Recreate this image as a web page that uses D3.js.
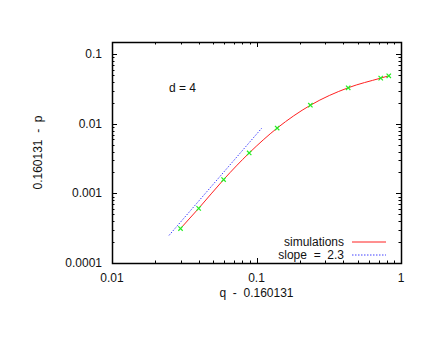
<!DOCTYPE html>
<html>
<head>
<meta charset="utf-8">
<script src="https://cdn.jsdelivr.net/npm/d3@7"></script>
<style>
  body { margin: 0; background: #fff; }
  text { font-family: "Liberation Sans", Arial, sans-serif; font-size: 12px; fill: #111; }
</style>
</head>
<body>
<svg class="chart"></svg>
<script>
// simulation points: q - qc, pc - p
const qDiff = [0.0298, 0.0398, 0.0592, 0.089, 0.139, 0.236, 0.431, 0.724, 0.823];
const pDiff = [0.000313, 0.00061, 0.00158, 0.00381, 0.00869, 0.0185, 0.033, 0.0454, 0.049];

// power-law guide, slope 2.3 (end points)
const slopeQ = [0.0248, 0.1088];
const slopeP = [0.000249, 0.00869];

const xTicks = [0.01, 0.1, 1];
const yTicks = [0.0001, 0.001, 0.01, 0.1];

const dims = { width: 436, height: 337 };
const margin = { left: 112, right: 35, top: 42, bottom: 74 };
const w = dims.width - margin.left - margin.right;
const h = dims.height - margin.top - margin.bottom;

const svg = d3.select('.chart')
  .attr('width', dims.width)
  .attr('height', dims.height);

const x = d3.scaleLog().domain([0.01, 1]).range([0, w]);
const y = d3.scaleLog().domain([0.0001, 0.15]).range([h, 0]);

const graph = svg.append('g')
  .attr('transform', `translate(${margin.left}, ${margin.top})`);

// minor + major ticks on all four sides (inward)
const xMinor = [];
for (let e = -2; e < 0; e++) for (let k = 2; k <= 9; k++) xMinor.push(k * Math.pow(10, e));
const yMinor = [];
for (let e = -4; e < 0; e++) for (let k = 2; k <= 9; k++) {
  const v = k * Math.pow(10, e);
  if (v <= 0.15) yMinor.push(v);
}

const tickG = graph.append('g').attr('stroke', '#000').attr('stroke-width', 1);
xTicks.forEach(v => {
  const px = Math.round(x(v)) + 0.5;
  tickG.append('line').attr('x1', px).attr('x2', px).attr('y1', h).attr('y2', h - 5);
  tickG.append('line').attr('x1', px).attr('x2', px).attr('y1', 0).attr('y2', 5);
});
xMinor.forEach(v => {
  const px = Math.round(x(v)) + 0.5;
  tickG.append('line').attr('x1', px).attr('x2', px).attr('y1', h).attr('y2', h - 2.5);
  tickG.append('line').attr('x1', px).attr('x2', px).attr('y1', 0).attr('y2', 2.5);
});
yTicks.forEach(v => {
  const py = Math.round(y(v)) + 0.5;
  tickG.append('line').attr('x1', 0).attr('x2', 5).attr('y1', py).attr('y2', py);
  tickG.append('line').attr('x1', w).attr('x2', w - 5).attr('y1', py).attr('y2', py);
});
yMinor.forEach(v => {
  const py = Math.round(y(v)) + 0.5;
  tickG.append('line').attr('x1', 0).attr('x2', 2.5).attr('y1', py).attr('y2', py);
  tickG.append('line').attr('x1', w).attr('x2', w - 2.5).attr('y1', py).attr('y2', py);
});

// frame
graph.append('rect')
  .attr('x', 0.5).attr('y', 0.5)
  .attr('width', w).attr('height', h)
  .attr('fill', 'none')
  .attr('stroke', '#000')
  .attr('stroke-width', 1.5);

// tick labels
graph.selectAll('text.xl')
  .data(xTicks)
  .enter()
  .append('text')
  .attr('class', 'xl')
  .attr('x', d => x(d))
  .attr('y', h + 19)
  .attr('text-anchor', 'middle')
  .text(d => d3.format('')(d));

graph.selectAll('text.yl')
  .data(yTicks)
  .enter()
  .append('text')
  .attr('class', 'yl')
  .attr('x', -10)
  .attr('y', d => y(d) + 4)
  .attr('text-anchor', 'end')
  .text(d => d === 0.0001 ? '0.0001' : d3.format('')(d));

// axis titles
svg.append('text')
  .attr('x', margin.left + w / 2)
  .attr('y', 297)
  .attr('text-anchor', 'middle')
  .attr('xml:space', 'preserve')
  .text('q  -  0.160131');

svg.append('text')
  .attr('transform', `translate(42, ${margin.top + h / 2}) rotate(-90)`)
  .attr('text-anchor', 'middle')
  .attr('xml:space', 'preserve')
  .text('0.160131  -  p');

graph.append('text')
  .attr('x', 57)
  .attr('y', 50)
  .text('d = 4');

// slope guide
const slopeData = slopeQ.map((q, i) => ({ q: q, p: slopeP[i] }));
graph.append('path')
  .datum(slopeData)
  .attr('fill', 'none')
  .attr('stroke', '#4040ff')
  .attr('stroke-width', 1)
  .attr('stroke-dasharray', '1.5,1.5')
  .attr('d', d3.line().x(d => x(d.q)).y(d => y(d.p)));

// simulation curve
const simData = qDiff.map((q, i) => ({ q: q, p: pDiff[i] }));
graph.append('path')
  .datum(simData)
  .attr('fill', 'none')
  .attr('stroke', '#ff2020')
  .attr('stroke-width', 1)
  .attr('d', d3.line().curve(d3.curveMonotoneX).x(d => x(d.q)).y(d => y(d.p)));

// point markers
const cross = graph.selectAll('g.pt')
  .data(simData)
  .enter()
  .append('g')
  .attr('class', 'pt')
  .attr('transform', d => `translate(${x(d.q)}, ${y(d.p)})`)
  .attr('stroke', '#22ee22')
  .attr('stroke-width', 1.2);
cross.append('line').attr('x1', -2.2).attr('y1', -2.2).attr('x2', 2.2).attr('y2', 2.2);
cross.append('line').attr('x1', -2.2).attr('y1', 2.2).attr('x2', 2.2).attr('y2', -2.2);

// legend
const legend = [
  { name: 'simulations', color: '#ff2020', dash: null },
  { name: 'slope  =  2.3', color: '#4040ff', dash: '1.5,1.5' }
];
const legendGroup = graph.selectAll('g.leg')
  .data(legend)
  .enter()
  .append('g')
  .attr('class', 'leg')
  .attr('transform', (d, i) => `translate(0, ${200 + i * 13})`);
legendGroup.append('text')
  .attr('x', 232)
  .attr('y', 4)
  .attr('text-anchor', 'end')
  .attr('xml:space', 'preserve')
  .text(d => d.name);
legendGroup.append('line')
  .attr('x1', 240).attr('x2', 274)
  .attr('y1', 0).attr('y2', 0)
  .attr('stroke', d => d.color)
  .attr('stroke-width', 1)
  .attr('stroke-dasharray', d => d.dash);
</script>
</body>
</html>
